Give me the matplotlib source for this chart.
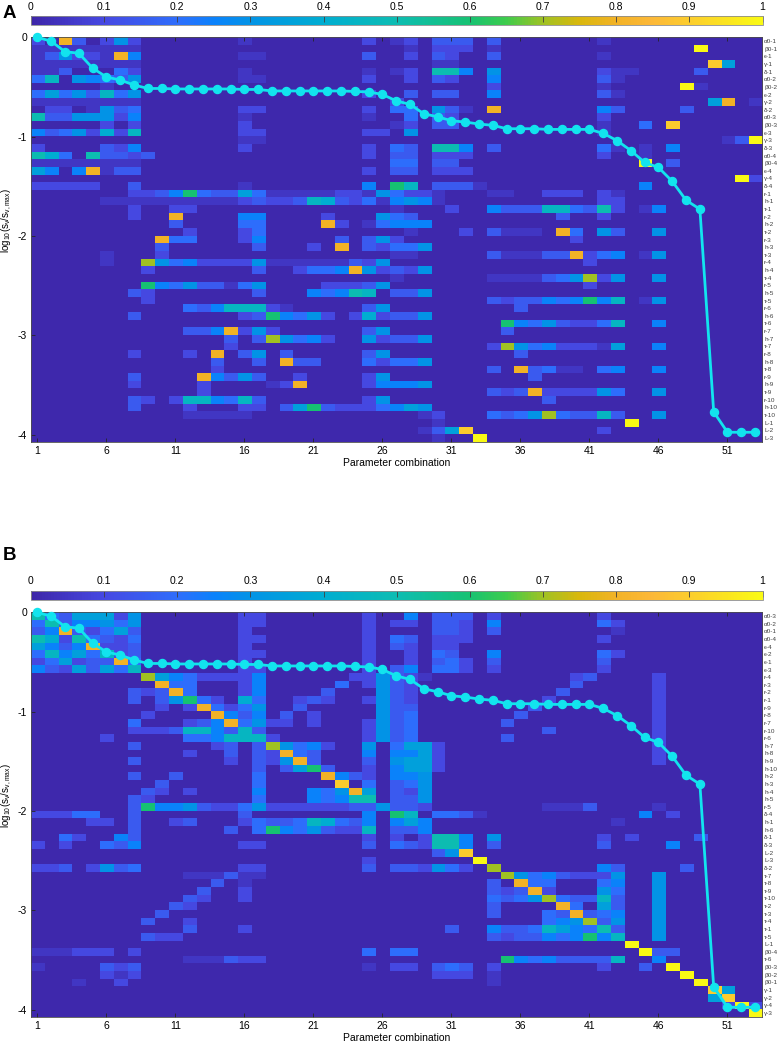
import numpy as np
import matplotlib.pyplot as plt
from matplotlib.colors import LinearSegmentedColormap

plt.rcParams['font.family'] = ['Liberation Sans', 'DejaVu Sans']
plt.rcParams['axes.unicode_minus'] = False

# singular values (same curve in both panels)
combos = np.arange(1, 54)
log_sv = [0, -0.04, -0.145, -0.16, -0.31, -0.40, -0.43, -0.48, -0.515, -0.515,
          -0.52, -0.52, -0.52, -0.52, -0.52, -0.525, -0.525, -0.54, -0.54, -0.54,
          -0.54, -0.54, -0.54, -0.545, -0.55, -0.575, -0.64, -0.675, -0.77, -0.80,
          -0.84, -0.853, -0.873, -0.886, -0.92, -0.92, -0.92, -0.927, -0.927, -0.927,
          -0.927, -0.967, -1.04, -1.14, -1.26, -1.31, -1.45, -1.64, -1.73, -3.77,
          -3.975, -3.975, -3.975]

labels_a = ['α0-1', 'β0-1', 'ϵ-1', 'γ-1', 'δ-1',
            'α0-2', 'β0-2', 'ϵ-2', 'γ-2', 'δ-2',
            'α0-3', 'β0-3', 'ϵ-3', 'γ-3', 'δ-3',
            'α0-4', 'β0-4', 'ϵ-4', 'γ-4', 'δ-4',
            'r-1', 'h-1', 'τ-1', 'r-2', 'h-2', 'τ-2', 'r-3', 'h-3', 'τ-3',
            'r-4', 'h-4', 'τ-4', 'r-5', 'h-5', 'τ-5', 'r-6', 'h-6', 'τ-6',
            'r-7', 'h-7', 'τ-7', 'r-8', 'h-8', 'τ-8', 'r-9', 'h-9', 'τ-9',
            'r-10', 'h-10', 'τ-10', 'L-1', 'L-2', 'L-3']

labels_b = ['α0-3', 'α0-2', 'α0-1', 'α0-4', 'ϵ-4', 'ϵ-2', 'ϵ-1', 'ϵ-3',
            'r-4', 'r-3', 'r-2', 'r-1', 'r-9', 'r-8', 'r-7', 'r-10', 'r-6',
            'h-7', 'h-8', 'h-9', 'h-10', 'h-2', 'h-3', 'h-4', 'h-5', 'r-5',
            'δ-4', 'h-1', 'h-6', 'δ-1', 'δ-3', 'L-2', 'L-3', 'δ-2',
            'τ-7', 'τ-8', 'τ-9', 'τ-10', 'τ-2', 'τ-3', 'τ-4', 'τ-1', 'τ-5',
            'L-1', 'β0-4', 'τ-6', 'β0-3', 'β0-2', 'β0-1',
            'γ-1', 'γ-2', 'γ-4', 'γ-3']

# cell codes, one string per row (columns 1..53 in groups of 5)
levels = {'.': 0.01, ':': 0.05, '1': 0.1, 'b': 0.15, '2': 0.2, 'c': 0.25, '3': 0.3,
          'd': 0.35, '4': 0.4, 'e': 0.45, '5': 0.5, '6': 0.6, '7': 0.7, '8': 0.8,
          '9': 0.9, 'X': 1.0}

rows_a = [
    "1.8b. 131.. ..... :.... ....1 .:1.b bb.b. ..... .:... ..... ...",
    "::::: :::.. ..... ..... ..... ..:.1 11.:. ..... ..... ...X. ...",
    ":b311 :8c.. ..... ::... ....b ..1.b 1..b. ..... .:... ..... ...",
    "::::: :::.. ..... ..... ..... ....: :.... ..... ..... ....9 d..",
    "::b.. .21.. ..... :.... ....: .:1.5 5c.3. ..... .1::. ...b. ...",
    "2e.3c 2b3.. ..... ::... ....1 ..1.b 1..c. ..... .b:.. ..... ...",
    "..... :.... ..... ..... ..... ..... ...1. ..... .:... ..X:. ...",
    "2d23b e23.. ..... ..... ....1 ..b.b b..c. ..... .b:.. ..... ...",
    "::::: :::.. ..... ..... ..... .1... ..... ..... ..... ....d 8.:",
    ".11.: 3b2.. ..... 11... ....1 .22.3 b:.8. ..... .cb.. ..b.. ...",
    "5bb33 31c.. ..... :.... ....: ..2.b 1.... ..... .1... ..... ...",
    "..... 1.1.. ..... 1.... ..... .:1.b b.... ..... .:..2 .9... ...",
    "cb231 41e.. ..... 11... ....1 1.3.. ..... ..... .:... ..... ...",
    "..... ..... ..... ::... ..... ..... ..... ..... ..... ..... :bX",
    "1.... b1c.. ..... 1.... ....1 .2b.5 5c.b. ..... .2:.: .c... ...",
    "542.5 bb1b. ..... ..... ....1 .bb.1 11... ..... .1..: ..... ...",
    "::::: :::.. ..... ..... ..... .22.b b.... ..... ....X .b... ...",
    "dc.c8 :bb.. ..... ..... ....1 .bb.1 11... ..... ..... ..... ...",
    "..... ..... ..... ..... ..... ..... ..... ..... ..... ..... .X1",
    "11111 ..b.. ..... :.... ....c .6e.b bb:.. ..... ....c ..... ...",
    "..... ..11b c62bb d2::: ::11: 3211: ...:: ..111 .1:.. ..... ...",
    "..... ::::: ::::: 1b11b e4b12 :c3c: ..... ..... .11.. ..... ...",
    "..... ..1.. 11... ..... ..... .:... 1..cb bbee2 b51.: c.... ...",
    "..... ..1.. 8.... cc... .1... 32b.. ..... ...b. .1... ..... ...",
    "..... ..... b.... 22... .81.: 2ccc. ..... ..... ..... ..... ...",
    "..... ..... .1... 12... ..... ..:.. .1.b: ::.82 .3b.. 3.... ...",
    "..... ....8 22... 1c... ..b.b 31... ..... ....1 ..... ..... ...",
    "..... ....b ..... .b... 1.8.b 1223. ..... ..... ..... ..... ...",
    "..... :...1 ..... ..... ..... .::.. ...b: ::bb8 12c.: 3.... ...",
    "..... :..73 2c111 13::: :::b1 3.... ..... ..... 1.... ..... ...",
    "..... ...1. ..... .b..1 22c83 1b13. ..... ..... ..... ..... ...",
    "..... ..... ..... ..... ..... .:... ...:: ::b23 713.. 3.... ...",
    "..... ...6c 23bb: 23... .111b 3.... ..... ..... 1.... ..... ...",
    "..... ..b1. ..... .b... c2c5e .bb3. ..... ..... ..... ..... ...",
    "..... ...1. ..... ..... ..... ..... ...b1 bbc2c 6ce.: 3.... ...",
    "..... ..... .2bce ee1:. ....b 3.... ..... b.... ..... ..... ...",
    "..... ..b.. ..... 1b6c2 31.14 1bb3. ..... ..... ..... ..... ...",
    "..... ..... ..... ..... ..... ..... ....6 c23b1 12e.. c.... ...",
    "..... ..... .bbc8 131.. ....b 3.... ....b ..... ..... ..... ...",
    "..... ..... ....b .b732 c1..3 1bb3. ..... ..... ..... ..... ...",
    "..... ..... ....1 ..... ..... ..... ...17 32c11 1:d.. c.... ...",
    "..... ..1.. .1.8. b3.b. ....b 3.... ..... b.... ..... ..... ...",
    "..... ..... ...b. .b.8b b...2 1223. ..... ..... ..... ..... ...",
    "..... ..... ...1. ..... ..... ..... ...b. 8b2:: .2c.. c.... ...",
    "..... ..b.. ..8cb 3b..1 ....1 3.... ..... .b... ..... ..... ...",
    "..... ..1.. ..1.. ..:18 ....1 ccc3. ..... ..... ..... ..... ...",
    "..... ..... ..1.. ..... ..... ..... ...b1 b8111 132.. 3.... ...",
    "..... ..b1. 1eec2 eb... ....1 3.... ..... ..b.. ..... ..... ...",
    "..... ..b.. .1... 11.bd 6b111 2cd3. ..... ..... ..... ..... ...",
    "..... ..... .:::: :.... ..... ...:1 ...2b 2372b beb.. 3.... ...",
    "..... ..... ..... ..... ..... ....: ..... ..... ...X. ..... ...",
    "..... ..... ..... ..... ..... ...:b d9... ..... .1... ..... ...",
    "..... ..... ..... ..... ..... ....: ..X.. ..... ..... ..... ...",
]

rows_b = [
    "52bdd d13.. ..... 11... ....1 ..c.b bb.1. ..... .1... ..... ...",
    "25bcc 323.. ..... 11... ....1 .11.b b1.c. ..... .21.. ..... ...",
    "bc8b1 2db.. ..... 1.... ....1 ....b b1.b. ..... ..:.. ..... ...",
    "54152 b12.. ..... 11... ....1 .2b.1 11... ..... .1... ..... ...",
    "dcbc8 11b.. ..... 1.... ....1 .b1.1 1.... ..... ..... ..... ...",
    "2ecd2 e1b.. ..... 11... ....1 ..1.2 b..c. ..... .21.. ..... ...",
    "12d1b b82.. ..... 1.... ....1 ..1.b 21.b. ..... .b... ..... ...",
    "cb1db d2e.. ..... 11... ....1 .bc.2 21.1. ..... .1... ..... ...",
    "..... ...7d c2111 1c... ...11 3b1:. ..... ....1 b.... 1.... ...",
    "..... ....8 22... 1c... ..2.1 3b1.. ..... ....b ..... 1.... ...",
    "..... ..b1b 82... 1c... .b... 3b1.. ..... ...b. ..... 1.... ...",
    "..... ..b.b 3621. 42..1 b1..1 3b1.. ..... ..1.. ..... 1.... ...",
    "..... ....1 .1821 23..b ..... 3bb.. ..... .b... ..... 1.... ...",
    "..... ...1. ...8c bc.b. 1.... 3b2.. ..... b.... ..... 1.... ...",
    "..... ..2.. .1bc8 2311. 1...1 3b2.. ....b ..... ..... 1.... ...",
    "..... ..111 beecb eb... ....1 3b2.. ..... ..b.. ..... 1.... ...",
    "..... 1.... .22ce ee1.. ....1 3b2.. ....b ..... ..... 1.... ...",
    "..... ..b.. ...1b .b732 c1..3 .2dd1 ..... ..... ..... 1.... ...",
    "..... ..... .1..b .b182 b...c .ccd1 ..... ..... ..... 1.... ...",
    "..... ..b.. ....1 .b138 b...b .3dd1 ..... ..... ..... 1.... ...",
    "..... ..... ..... .b.bd 6b..1 .cdd1 ..... ..... ..... ..... ...",
    "..... ..b.. b.... .2... .8cb1 .cc3. ..... ..... ..... ..... ...",
    "..... ....b ..... .2... ..9.2 .b23. ..... ..... ..... ..... ...",
    "..... ...b1 .1... .c... c238d .b13. ..... ..... ..... ..... ...",
    "..... ..b1. ..... .2... c2c55 .bb3. ..... ..... ..... ..... ...",
    "..... ..b6c c3b11 23111 111bb 3bb1. ..... ..::: b.... :.... ...",
    "11122 ..b.. ..... b.... ....c .6e.2 2b:.. ..... ....c .1... ...",
    "....1 1.b.. 1b... 12bb2 e42bc .cdc. ..... ..... ..:.. ..... ...",
    "..... ..b.. ....b .26c2 3b11e .bbc. ..... ..... ..... ..... ...",
    "..21. .cb.. ..... ..... ....1 .1.15 5c.3. ..... .1.1. ...b. ...",
    "1.1.. 2bc.. ..... 11... ....b .2b15 5c.b. ..... .b... .c... ...",
    "..... ..... ..... ..... ..... ....b 39... ..... ..... ..... ...",
    "..... ..... ..... ..... ....1 ..... ..X.. ..... ..... ..... ...",
    "11b.1 3b2.. ..... 11... ....b .bb13 21.7. ..... .cb.. ..b.. ...",
    "..... ..... .:::b ::... ..... ..... ....7 32cb1 113.. 3.... ...",
    "..... ..... ...b. :.... ..... ..... ...b. 822.. .2c.. 3.... ...",
    "..... ..... ..b.. 1.... ..... ..... ...b1 b81.. .32.. 3.... ...",
    "..... ..... .b1.. 1.... ..... ..... ...2b 2372b beb.. 3.... ...",
    "..... ..... b1... ..... ..... ..... ...b. ...82 .db.. 3.... ...",
    "..... ....b ..... ..... ..... ..... ...b. ..2b8 b2c.. 3.... ...",
    "..... ...b. .1... ..... ..... ..... ..... ..2c3 7b3.. 3.... ...",
    "..... ..... .b... 1.... ..... ..... b..cb b2edc 25b.. 3.... ...",
    "..... ...b1 1.... ..... ..... ..... ...b1 bbc2c 6ce.. 3.... ...",
    "..... ..... ..... ..... ..... ..... ..... ..... ...X. ..... ...",
    ":::11 1.1.. ..... ..... ....2 .22.. ..... ..... ....X bb... ...",
    "..... ..... .:::b 11... ..... ..... ....6 c2cbb bbe.. c.... ...",
    ":.... b1b.. ..... ..... ....: .11.b 2b.1. ..... .1..b .X... ...",
    "..... 1:1.. ..... ..... ..... ....1 11.:. ..... ..... ..X.. ...",
    "...:. .1... ..... ..... ..... ..... ...:. ..... ..... ...X. ...",
    "..... ..... ..... ..... ..... ..... ..... ..... ..... ....9 d..",
    "..... ..... ..... ..... ..... ..... ..... ..... ..... ....d 9..",
    "..... ..... ..... ..... ..... ..... ..... ..... ..... ..... 1X1",
    "..... ..... ..... ..... ..... ..... ..... ..... ..... ..... ..X",
]

cbar_ticks = np.round(np.arange(0, 1.01, 0.1), 1)
cbar_labels = ['0', '0.1', '0.2', '0.3', '0.4', '0.5', '0.6', '0.7', '0.8', '0.9', '1']


def to_matrix(rows):
    out = []
    for s in rows:
        s = (s.replace(' ', '') + '.' * 53)[:53]
        out.append([levels[ch] for ch in s])
    return np.array(out)


# parula-like colormap
parula = LinearSegmentedColormap.from_list('parula_like', [
    (0.00, (0.243, 0.150, 0.660)),
    (0.10, (0.275, 0.285, 0.890)),
    (0.20, (0.180, 0.430, 0.990)),
    (0.25, (0.040, 0.510, 0.985)),
    (0.30, (0.010, 0.580, 0.900)),
    (0.40, (0.000, 0.680, 0.820)),
    (0.50, (0.050, 0.740, 0.700)),
    (0.60, (0.090, 0.760, 0.450)),
    (0.65, (0.240, 0.800, 0.300)),
    (0.70, (0.620, 0.760, 0.140)),
    (0.75, (0.850, 0.720, 0.050)),
    (0.80, (0.950, 0.700, 0.150)),
    (0.85, (0.990, 0.720, 0.220)),
    (0.90, (0.990, 0.800, 0.180)),
    (1.00, (0.980, 0.980, 0.080)),
])

H = 1047.0
W = 782.0
fig = plt.figure(figsize=(W / 100, H / 100), dpi=100)

panels = [('A', rows_a, labels_a, 37.3, 15.8, 14),
          ('B', rows_b, labels_b, 612.3, 590.5, 556)]

for letter, rows, labels, top_px, cb_top_px, let_px in panels:
    M = to_matrix(rows)
    ax = fig.add_axes([30.5 / W, 1 - (top_px + 404.4) / H, 731.5 / W, 404.4 / H])
    im = ax.imshow(M, cmap=parula, vmin=0, vmax=1, aspect='auto',
                   interpolation='nearest', extent=[0.5, 53.5, -4.07, 0])
    ax.plot(combos, log_sv, '-o', color='#12E4EE', lw=2, ms=5.8,
            clip_on=False, zorder=5)
    ax.set_xlim(0.5, 53.5)
    ax.set_ylim(-4.07, 0)
    ax.set_xticks(range(1, 54, 5))
    ax.set_yticks([-4, -3, -2, -1, 0])
    ax.tick_params(direction='in', top=True, right=False, length=3, width=0.6,
                   labelsize=7.5, color='0.15', pad=3)
    ax.tick_params(axis='y', pad=2.5)
    for sp in ax.spines.values():
        sp.set_color('0.3')
        sp.set_linewidth(0.6)
    ax.set_xlabel('Parameter combination', fontsize=7.5, labelpad=1.5)
    ax.set_ylabel(r'log$_{\mathregular{10}}$(s$_{\mathregular{v}}$/s$_{\mathregular{v,max}}$)',
                  fontsize=7)
    ax.yaxis.set_label_coords(-0.023, 0.548)

    ax2 = ax.twinx()
    ax2.set_ylim(53.5, 0.5)
    ax2.set_yticks(range(1, 54))
    ax2.set_yticklabels(labels, fontsize=4.6, color='0.25')
    ax2.tick_params(direction='in', length=0, pad=1.5)
    for sp in ax2.spines.values():
        sp.set_visible(False)

    cax = fig.add_axes([31 / W, 1 - (cb_top_px + 9.5) / H, 731.5 / W, 9.5 / H])
    cb = fig.colorbar(im, cax=cax, orientation='horizontal', ticks=cbar_ticks)
    cax.xaxis.set_ticks_position('top')
    cb.set_ticklabels(cbar_labels)
    cax.tick_params(direction='in', length=4.5, width=0.6, labelsize=7.5,
                    pad=3, color='0.25')
    cb.outline.set_edgecolor('0.55')
    cb.outline.set_linewidth(0.6)

    fig.text(3 / W, 1 - let_px / H, letter, fontsize=13.5, fontweight='bold',
             va='center', ha='left')

fig.savefig('out.png', dpi=100)
